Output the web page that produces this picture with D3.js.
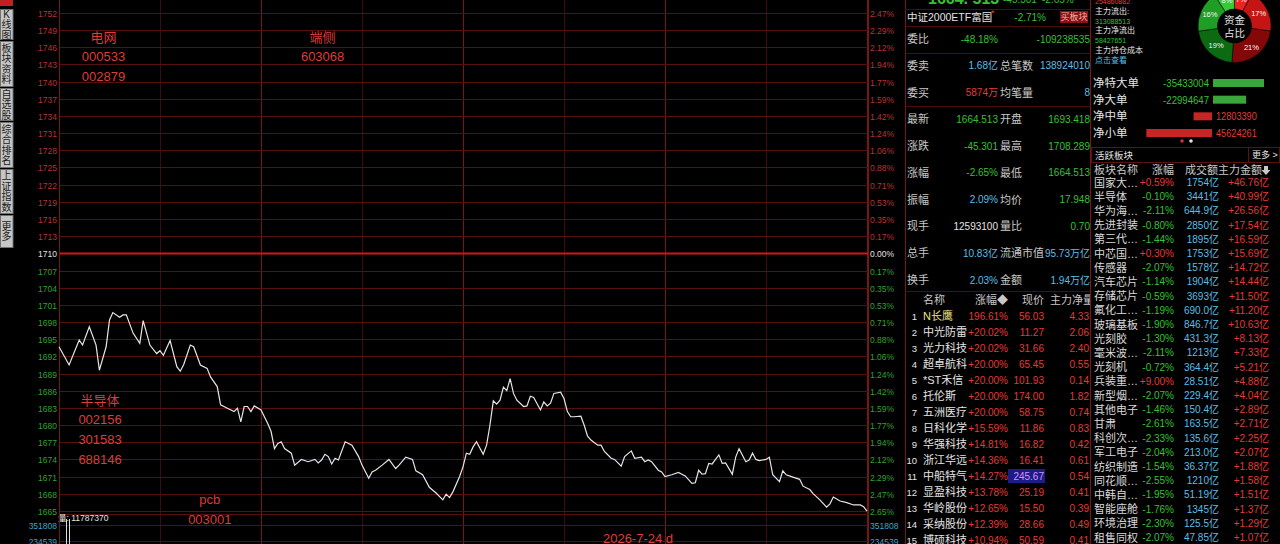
<!DOCTYPE html>
<html><head><meta charset="utf-8">
<script src="https://cdn.jsdelivr.net/npm/d3@7"></script>
<style>
body{margin:0;background:#000;overflow:hidden}
svg{display:block;font-family:"Liberation Sans","Noto Sans CJK SC",sans-serif}
</style></head>
<body><svg id="c" width="1280" height="544"></svg>
<script>
// intraday line (minute of session, index value)
var prevClose = 1709.814;
var minutes = [0,3,6,7,9,11,12,14,15,16,
  18,19,20,22,24,25,27,29,30,31,
  33,35,36,37,39,40,42,44,45,47,
  48,50,52,53,54,55,56,57,58,60,
  62,63,64,65,66,67,69,70,72,74,
  76,77,78,79,80,81,82,83,85,87,
  89,90,92,93,94,96,98,100,101,103,
  105,106,108,110,112,114,115,116,117,119,
  120,121,122,123,124,126,127,128,129,130,
  131,132,133,134,135,136,138,139,140,141,
  143,144,145,146,147,149,150,151,152,153,
  155,156,157,158,160,161,162,164,165,167,
  168,170,171,173,174,175,176,178,179,180,
  182,184,185,186,188,189,190,191,192,193,
  194,195,196,197,198,200,201,202,204,205,
  206,207,208,210,211,212,214,215,216,218,
  220,221,223,224,226,228,229,230,232,234,
  236,238,239,240];
var prices = [1693.4,1690.2,1694.6,1693.7,1696.9,1693.7,1689.3,1693.4,1698.1,1699.4,
  1698.6,1699.0,1699.0,1695.8,1694.0,1698.0,1693.7,1692.2,1692.7,1691.9,
  1694.5,1689.9,1689.1,1690.2,1693.7,1693.4,1690.2,1689.6,1688.1,1686.4,
  1683.2,1682.6,1682.0,1682.6,1680.2,1682.9,1682.9,1682.0,1683.0,1682.3,
  1679.9,1678.5,1675.5,1676.4,1676.7,1675.5,1674.7,1672.6,1673.6,1673.2,
  1673.6,1673.0,1673.5,1674.5,1674.1,1672.8,1673.8,1673.5,1676.7,1676.1,
  1674.1,1672.6,1670.3,1671.4,1671.7,1672.6,1673.6,1672.0,1672.6,1674.0,
  1673.6,1671.6,1670.9,1668.7,1667.7,1666.5,1667.5,1666.9,1667.9,1670.6,
  1672.3,1674.7,1674.5,1675.8,1676.7,1674.5,1676.1,1679.6,1683.9,1683.3,
  1684.0,1686.3,1685.7,1687.8,1685.2,1684.0,1682.9,1683.0,1684.7,1684.5,
  1682.3,1683.7,1683.0,1683.5,1685.2,1685.4,1684.3,1682.0,1681.1,1681.1,
  1681.2,1679.6,1677.7,1677.0,1676.1,1676.1,1675.0,1673.8,1673.6,1672.4,
  1674.1,1675.1,1673.8,1674.0,1673.2,1673.5,1673.2,1671.7,1671.4,1670.6,
  1670.9,1671.3,1671.0,1670.7,1669.4,1669.5,1671.7,1671.0,1671.1,1672.9,
  1672.8,1673.6,1674.4,1672.9,1673.0,1671.0,1674.0,1675.5,1673.2,1673.5,
  1674.7,1673.6,1673.4,1673.6,1674.0,1670.9,1669.7,1671.6,1670.9,1670.5,
  1670.1,1668.9,1668.3,1667.6,1666.5,1665.2,1665.8,1667.0,1666.3,1666.0,
  1665.6,1665.6,1665.3,1664.5];

// axis labels, top line to bottom line
var priceTicks = ["1752","1749","1746","1743","1740","1737","1734","1731","1728","1725",
  "1722","1719","1716","1713","1710","1707","1704","1701","1698","1695",
  "1692","1689","1686","1683","1680","1677","1674","1671","1668","1665"];
var pctTicks = ["2.47%","2.29%","2.12%","1.94%","1.77%","1.59%","1.42%","1.24%","1.06%","0.88%",
  "0.71%","0.53%","0.35%","0.17%","0.00%","0.17%","0.35%","0.53%","0.71%","0.88%",
  "1.06%","1.24%","1.42%","1.59%","1.77%","1.94%","2.12%","2.29%","2.47%","2.65%"];
var gridSteps = d3.range(14, -16, -1);

var volMinutes = [2, 3];
var volValues = [430000, 415000];
var volTicks = [351808, 234539];

var notes = [
  {lines: ["电网", "000533", "002879"], minute: 13.2, price: 1747.8},
  {lines: ["端侧", "603068"], minute: 78.3, price: 1747.8},
  {lines: ["半导体", "002156", "301583", "688146"], minute: 12.2, price: 1684.0},
  {lines: ["pcb", "003001"], minute: 44.8, price: 1666.5}
];

var sideLabels = ["K线图", "板块资料", "自选股", "综合排名", "上证指数", "更多"];

var infoLabels1 = ["委比","委卖","委买","最新","涨跌","涨幅","振幅","现手","总手","换手"];
var infoValues1 = ["-48.18%","1.68亿","5874万","1664.513","-45.301","-2.65%","2.09%","12593100","10.83亿","2.03%"];
var infoLabels2 = ["","总笔数","均笔量","开盘","最高","最低","均价","量比","流通市值","金额"];
var infoValues2 = ["-109238535","138924010","8","1693.418","1708.289","1664.513","17.948","0.70","95.73万亿","1.94万亿"];
var infoKind1 = ["g","c","r","g","g","g","c","w","c","c"];
var infoKind2 = ["g","c","c","g","g","g","g","g","c","c"];

var stockNames = ["N长鹰","中光防雷","光力科技","超卓航科","*ST禾信","托伦斯","五洲医疗","日科化学","华强科技","浙江华远","中船特气","显盈科技","华岭股份","采纳股份","博硕科技"];
var stockChg = ["196.61%","+20.02%","+20.02%","+20.00%","+20.00%","+20.00%","+20.00%","+15.59%","+14.81%","+14.36%","+14.27%","+13.78%","+12.65%","+12.39%","+10.94%"];
var stockPrice = ["56.03","11.27","31.66","65.45","101.93","174.00","58.75","11.86","16.82","16.41","245.67","25.19","15.50","28.66","50.59"];
var stockFlow = ["4.33","2.06","2.40","0.55","0.14","1.82","0.74","0.83","0.42","0.61","0.54","0.41","0.39","0.49","0.41"];

var flowLines = ["254860882","主力流出:","313088513","主力净流出","58427651","主力持仓成本","点击查看"];
var flowKind = ["r","w","g","w","g","w","c"];
var pieValues = [7, 17, 21, 19, 16, 8];
var pieLabels = ["7%", "17%", "21%", "19%", "16%", "8%"];
var pieColors = ["#ee2222", "#c41414", "#840808", "#0b6a12", "#1f9e25", "#33cc33"];

var netLabels = ["净特大单","净大单","净中单","净小单"];
var netValues = [-35433004, -22994647, 12803390, 45624261];

var sectorNames = ["国家大…","半导体","华为海…","先进封装","第三代…","中芯国…","传感器","汽车芯片","存储芯片","氟化工…","玻璃基板","光刻胶","毫米波…","光刻机","兵装重…","新型烟…","其他电子","甘肃","科创次…","军工电子","纺织制造","同花顺…","中韩自…","智能座舱","环境治理","租售同权"];
var sectorChg = ["+0.59%","-0.10%","-2.11%","-0.80%","-1.44%","+0.30%","-2.07%","-1.14%","-0.59%","-1.19%","-1.90%","-1.30%","-2.11%","-0.72%","+9.00%","-2.07%","-1.46%","-2.61%","-2.33%","-2.04%","-1.54%","-2.55%","-1.95%","-1.76%","-2.30%","-2.07%"];
var sectorAmt = ["1754亿","3441亿","644.9亿","2850亿","1895亿","1753亿","1578亿","1904亿","3693亿","690.0亿","846.7亿","431.3亿","1213亿","364.4亿","28.51亿","229.4亿","150.4亿","163.5亿","135.6亿","213.0亿","36.37亿","1210亿","51.19亿","1345亿","125.5亿","47.85亿"];
var sectorFlow = ["+46.76亿","+40.99亿","+26.56亿","+17.54亿","+16.59亿","+15.69亿","+14.72亿","+14.44亿","+11.50亿","+11.20亿","+10.63亿","+8.13亿","+7.33亿","+5.21亿","+4.88亿","+4.04亿","+2.89亿","+2.71亿","+2.25亿","+2.07亿","+1.88亿","+1.58亿","+1.51亿","+1.37亿","+1.29亿","+1.07亿"];

var RED = "#e23b38", GREEN = "#35c135", CYAN = "#58bfe6", WHITE = "#e4e4e4", GRAY = "#c8c8c8";
var BORDER = "#7a1616", GRID = "#561010";
function kindColor(k) { return k == "r" ? RED : k == "g" ? GREEN : k == "c" ? CYAN : WHITE; }

var svg = d3.select("#c");
svg.append("rect").attr("width", 1280).attr("height", 544).attr("fill", "#000");
svg.append("clipPath").attr("id", "qclip")
.append("rect").attr("x", 906).attr("y", 0).attr("width", 184).attr("height", 544);

function txt(g, x0, y0, s, size, fill, anchor) {
    return g.append("text")
    .attr("x", x0).attr("y", y0)
    .attr("dominant-baseline", "central")
    .attr("text-anchor", anchor || "start")
    .attr("font-size", size)
    .attr("fill", fill)
    .text(s);
}

// ---- scales of the time-sharing chart
var step = 0.0017647;
var x = d3.scaleLinear().domain([0, 240]).range([59, 867]);
var y = d3.scaleLinear()
    .domain([prevClose * (1 - 15 * step), prevClose * (1 + 15 * step)])
    .range([510.9, -4.2]);
var yv = d3.scaleLinear().domain([234539, 351808]).range([541, 525]);

// vertical grid, every half hour
var vg = svg.append("g");
d3.range(0, 241, 30).forEach(function(m) {
    var xx = Math.round(x(m)) + 0.5;
    var major = (m % 60 == 0);
    vg.append("line")
    .attr("x1", xx).attr("x2", xx).attr("y1", 0).attr("y2", 544)
    .attr("stroke", major ? BORDER : "#3e0c0c")
    .attr("stroke-width", 1);
});

// horizontal grid and both axes
var hg = svg.append("g");
gridSteps.forEach(function(k, i) {
    var yy = Math.round(y(prevClose * (1 + k * step))) + 0.5;
    hg.append("line")
    .attr("x1", 59).attr("x2", 868).attr("y1", yy).attr("y2", yy)
    .attr("stroke", k == 0 ? "#d01818" : GRID)
    .attr("stroke-width", k == 0 ? 2 : 1);
    var col = k > 0 ? "#b83434" : k < 0 ? "#2fa32f" : "#e0e0e0";
    txt(hg, 57, yy, priceTicks[i], 8.5, col, "end");
    txt(hg, 870, yy, pctTicks[i], 8.5, col, "start");
});

// volume strip
var vp = svg.append("g");
vp.append("line").attr("x1", 59).attr("x2", 868).attr("y1", 514.5).attr("y2", 514.5).attr("stroke", GRID);
volTicks.forEach(function(v) {
    var yy = Math.round(yv(v)) + 0.5;
    vp.append("line").attr("x1", 59).attr("x2", 868).attr("y1", yy).attr("y2", yy).attr("stroke", GRID);
    txt(vp, 57, yy, String(v), 8.5, "#3ea3cc", "end");
    txt(vp, 870, yy, String(v), 8.5, "#3ea3cc", "start");
});
volMinutes.forEach(function(m, i) {
    var xx = Math.round(x(m)) + 0.5;
    vp.append("line")
    .attr("x1", xx).attr("x2", xx)
    .attr("y1", Math.max(519, yv(volValues[i]))).attr("y2", 544)
    .attr("stroke", "#dcdcdc");
});
txt(vp, 58, 518, "量: 11787370", 8.5, WHITE, "start");

// borders of the chart
[59, 868].forEach(function(xx) {
    svg.append("line").attr("x1", xx + 0.5).attr("x2", xx + 0.5).attr("y1", 0).attr("y2", 544).attr("stroke", BORDER);
});

// price line
var line = d3.line().x(function(d) { return x(d[0]); }).y(function(d) { return y(d[1]); });
svg.append("path")
.datum(d3.zip(minutes, prices))
.attr("d", line)
.attr("fill", "none")
.attr("stroke", "#e6e6e6")
.attr("stroke-width", 1.2);

// hand-written notes on the chart
notes.forEach(function(n) {
    n.lines.forEach(function(s, j) {
        txt(svg, x(n.minute), y(n.price) + j * 19.7, s, 13, "#dd3c3a", "middle");
    });
});
txt(svg, 638, 538, "2026-7-24 d", 13, "#dd3c3a", "middle");

// left tool bar
var side = svg.append("g");
side.append("rect").attr("x", 0).attr("y", 0).attr("width", 13).attr("height", 6).attr("fill", "#c02020");
var sideBoxes = [[9, 40], [41, 87], [88, 121], [122, 168], [169, 214], [215, 248]];
sideLabels.forEach(function(s, i) {
    var b = sideBoxes[i];
    side.append("rect").attr("x", 0.5).attr("y", b[0] + 0.5).attr("width", 12.5).attr("height", b[1] - b[0] - 1)
    .attr("fill", "#c6c6c6").attr("stroke", "#707070");
    var chars = Array.from(s);
    var y0 = b[0] + (b[1] - b[0] - chars.length * 10.5) / 2 + 5.25;
    chars.forEach(function(ch, j) {
        txt(side, 6.5, y0 + j * 10.5, ch, 10, "#1a1a1a", "middle");
    });
});

// ---- quote panel
var qb = svg.append("g");
[905, 1090].forEach(function(xx) {
    qb.append("line").attr("x1", xx + 0.5).attr("x2", xx + 0.5).attr("y1", 0).attr("y2", 544).attr("stroke", BORDER);
});
[9, 26, 53, 106, 291].forEach(function(yy) {
    qb.append("line").attr("x1", 905).attr("x2", 1090).attr("y1", yy + 0.5).attr("y2", yy + 0.5).attr("stroke", "#4a0e0e");
});
var qp = svg.append("g").attr("clip-path", "url(#qclip)");
qp.append("text").attr("x", 928).attr("y", 4).attr("font-size", 16).attr("font-weight", "bold").attr("fill", GREEN).text("1664. 513");
qp.append("text").attr("x", 1003).attr("y", 3).attr("font-size", 10).attr("fill", GREEN).text("-45.301");
qp.append("text").attr("x", 1042).attr("y", 3).attr("font-size", 10).attr("fill", GREEN).text("-2.65%");
txt(qp, 907, 17, "中证2000ETF富国", 10.5, WHITE, "start");
txt(qp, 991, 13, "*", 9, RED, "start");
txt(qp, 1046, 17, "-2.71%", 10, GREEN, "end");
qp.append("rect").attr("x", 1060).attr("y", 11).attr("width", 28).attr("height", 12).attr("fill", "#8a1212");
txt(qp, 1074, 17, "买板块", 9, "#f2b0b0", "middle");

var infoY = d3.scaleLinear().domain([0, 9]).range([39, 280]);
infoLabels1.forEach(function(s, i) {
    var yy = infoY(i);
    txt(qp, 907, yy, s, 11, GRAY, "start");
    txt(qp, 998, yy, infoValues1[i], 10, kindColor(infoKind1[i]), "end");
    txt(qp, 1000, yy, infoLabels2[i], 11, GRAY, "start");
    txt(qp, 1090, yy, infoValues2[i], 10, kindColor(infoKind2[i]), "end");
});

// ranking table
var rowY = d3.scaleLinear().domain([0, 14]).range([316, 540]);
txt(qp, 923, 300, "名称", 11, GRAY, "start");
txt(qp, 1008, 300, "涨幅◆", 11, GRAY, "end");
txt(qp, 1044, 300, "现价", 11, GRAY, "end");
txt(qp, 1050, 300, "主力净量", 11, GRAY, "start");
stockNames.forEach(function(s, i) {
    var yy = rowY(i);
    txt(qp, 917, yy, String(i + 1), 9.5, WHITE, "end");
    txt(qp, 923, yy, s, 11, i == 0 ? "#ede08a" : WHITE, "start");
    txt(qp, 1008, yy, stockChg[i], 10, RED, "end");
    if (i == 10) {
        qp.append("rect").attr("x", 1008).attr("y", yy - 7).attr("width", 37).attr("height", 14).attr("fill", "#1c1c86");
    }
    txt(qp, 1044, yy, stockPrice[i], 10, i == 10 ? "#d890ff" : RED, "end");
    txt(qp, 1089, yy, stockFlow[i], 10, RED, "end");
});

// ---- fund flow panel
var fp = svg.append("g");
var flowY = d3.scaleLinear().domain([0, 6]).range([1.5, 60.3]);
flowLines.forEach(function(s, i) {
    txt(fp, 1095, flowY(i), s, i % 2 == 0 && i < 6 ? 7 : 8, kindColor(flowKind[i]), "start");
});

var cx = 1234.5, cy = 26;
var pie = d3.pie().sort(null)(pieValues);
var arc = d3.arc().innerRadius(17).outerRadius(36.5);
var lab = d3.arc().innerRadius(27).outerRadius(27);
var donut = fp.append("g").attr("transform", "translate(" + cx + "," + cy + ")");
donut.selectAll("path").data(pie).enter().append("path")
.attr("d", arc)
.attr("fill", function(d, i) { return pieColors[i]; })
.attr("stroke", "#000").attr("stroke-width", 0.5);
donut.selectAll("text").data(pie).enter().append("text")
.attr("transform", function(d) { return "translate(" + lab.centroid(d) + ")"; })
.attr("text-anchor", "middle").attr("dominant-baseline", "central")
.attr("font-size", 7.5).attr("fill", "#f4f4f4")
.text(function(d, i) { return pieLabels[i]; });
donut.append("circle").attr("r", 17).attr("fill", "#000");
txt(donut, 0, -6, "资金", 10.5, WHITE, "middle");
txt(donut, 0, 7, "占比", 10.5, WHITE, "middle");

var netY = d3.scaleLinear().domain([0, 3]).range([83, 133]);
var bw = d3.scaleLinear().domain([0, 35433004]).range([0, 51]);
netLabels.forEach(function(s, i) {
    var v = netValues[i], yy = netY(i), t;
    txt(fp, 1093, yy, s, 11.5, WHITE, "start");
    if (v < 0) {
        fp.append("rect").attr("x", 1213).attr("y", yy - 4).attr("width", bw(-v)).attr("height", 8).attr("fill", "#3aa63a");
        t = txt(fp, 1209, yy, String(v), 11, GREEN, "end");
    } else {
        fp.append("rect").attr("x", 1212 - bw(v)).attr("y", yy - 4).attr("width", bw(v)).attr("height", 8).attr("fill", "#c62626");
        t = txt(fp, 1216, yy, String(v), 11, RED, "start");
    }
    // the terminal's digits are narrow: squeeze them to the width seen
    t.attr("textLength", String(v).length * 5.1).attr("lengthAdjust", "spacingAndGlyphs");
});
fp.append("circle").attr("cx", 1182).attr("cy", 141).attr("r", 1.8).attr("fill", "#d03030");
fp.append("circle").attr("cx", 1191).attr("cy", 141).attr("r", 1.8).attr("fill", "#e0e0e0");

// active sectors
fp.append("rect").attr("x", 1091.5).attr("y", 147.5).attr("width", 188).attr("height", 15).attr("fill", "none").attr("stroke", "#5a1212");
fp.append("line").attr("x1", 1248.5).attr("x2", 1248.5).attr("y1", 147).attr("y2", 163).attr("stroke", "#5a1212");
txt(fp, 1095, 155, "活跃板块", 9.5, WHITE, "start");
txt(fp, 1252, 155, "更多 >", 9, WHITE, "start");
txt(fp, 1094, 170, "板块名称", 11, GRAY, "start");
txt(fp, 1174, 170, "涨幅", 11, GRAY, "end");
txt(fp, 1218, 170, "成交额", 11, GRAY, "end");
txt(fp, 1262, 170, "主力金额", 11, GRAY, "end");
fp.append("path").attr("d", "M1264,166h4v4h2.5l-4.5,5l-4.5,-5h2.5z").attr("fill", GRAY);

var secY = d3.scaleLinear().domain([0, 25]).range([182.5, 537.5]);
sectorNames.forEach(function(s, i) {
    var yy = secY(i);
    txt(fp, 1094, yy, s, 11, "#dadada", "start");
    txt(fp, 1174, yy, sectorChg[i], 10, sectorChg[i][0] == "+" ? RED : GREEN, "end");
    txt(fp, 1219, yy, sectorAmt[i], 10, CYAN, "end");
    txt(fp, 1269, yy, sectorFlow[i], 10, RED, "end");
});
</script>
</body></html>
